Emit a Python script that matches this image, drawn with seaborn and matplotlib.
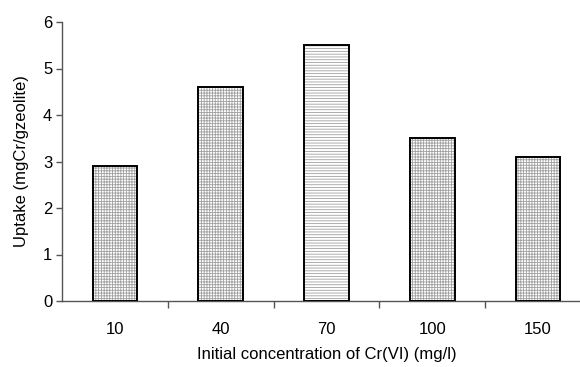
import matplotlib
matplotlib.use("Agg")
import matplotlib.pyplot as plt
import matplotlib.patches as mpatches
import seaborn as sns
import numpy as np

# data
conc = ["10", "40", "70", "100", "150"]
uptake = [2.9, 4.6, 5.5, 3.5, 3.1]
hatches = ["++++++", "++++++", "------", "++++++", "++++++"]

sns.set_style("white")
plt.rcParams['font.family'] = ['Liberation Sans', 'DejaVu Sans']
plt.rcParams['hatch.linewidth'] = 0.6
plt.rcParams['text.color'] = 'black'
plt.rcParams['axes.labelcolor'] = 'black'
plt.rcParams['xtick.labelcolor'] = 'black'
plt.rcParams['ytick.labelcolor'] = 'black'

fig = plt.figure(figsize=(5.8, 3.67), dpi=100)
ax = fig.add_axes([62 / 580, 66 / 367, 529 / 580, 279 / 367])

# hatched fill in grey, then a black outline on top
sns.barplot(x=conc, y=uptake, color="white", edgecolor="#a0a0a0",
            linewidth=0, width=0.42, ax=ax)
for bar, h in zip(list(ax.patches), hatches):
    bar.set_hatch(h)
    ax.add_patch(mpatches.Rectangle(bar.get_xy(), bar.get_width(), bar.get_height(),
                                    fill=False, edgecolor="black", linewidth=1.4, zorder=3))

ax.set_ylim(0, 6)
ax.set_xlim(-0.5, 4.5)
ax.set_yticks(range(7))
ax.set_xticks(np.arange(0.5, 4.5, 1), minor=True)
ax.tick_params(axis='x', which='major', bottom=True, length=0, labelsize=12, pad=15)
ax.tick_params(axis='x', which='minor', bottom=True, length=5, width=1, color='#555555', direction='out')
ax.tick_params(axis='y', left=True, length=4, width=1, color='#555555', direction='out', labelsize=12, pad=3)

for s in ['top', 'right']:
    ax.spines[s].set_visible(False)
for s in ['left', 'bottom']:
    ax.spines[s].set_color('#555555')
    ax.spines[s].set_linewidth(1)

ax.set_xlabel("Initial concentration of Cr(VI) (mg/l)", fontsize=12, labelpad=7)
ax.set_ylabel("Uptake (mgCr/gzeolite)", fontsize=12, labelpad=10)

fig.savefig("out.png", dpi=100)
